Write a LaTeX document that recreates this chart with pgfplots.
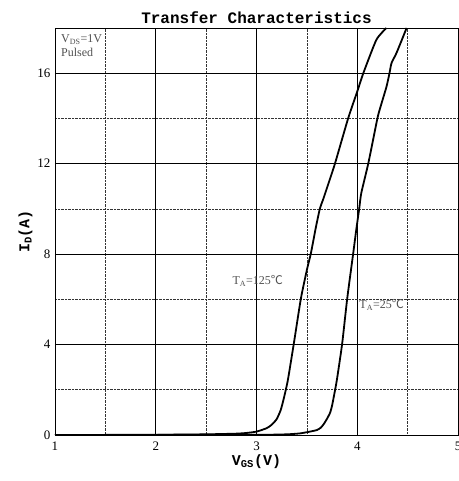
\documentclass[border=0pt]{standalone}
\usepackage{fontspec}
\setmainfont{Liberation Serif}
\newfontfamily\monofont{Liberation Mono}
\newfontfamily\cjk{Noto Sans CJK SC}
\usepackage{pgfplots}
\pgfplotsset{compat=1.18}

\definecolor{annot}{RGB}{80,80,80}

\begin{document}
\begin{tikzpicture}
\begin{axis}[
    name=ax,
    width=403pt, height=407pt,
    scale only axis,
    xmin=1, xmax=5, ymin=0, ymax=18,
    xtick={1,2,3,4,5},
    ytick={0,4,8,12,16},
    minor xtick={1.5,2.5,3.5,4.5},
    minor ytick={2,6,10,14},
    grid=both,
    major grid style={solid, black, line width=0.7pt},
    minor grid style={densely dotted, black!80, line width=0.6pt},
    major tick length=0pt, minor tick length=0pt,
    axis line style={black, line width=0.8pt},
    tick label style={font=\fontsize{13}{13}\selectfont},
    /pgf/number format/assume math mode=true,
    xticklabel style={yshift=-3pt},
    yticklabel style={xshift=-1pt},
    title={\monofont\bfseries\fontsize{16}{16}\selectfont Transfer Characteristics},
    title style={yshift=-5pt},
    xlabel={\monofont\bfseries\fontsize{15}{15}\selectfont V\textsubscript{GS}(V)},
    ylabel={\monofont\bfseries\fontsize{15}{15}\selectfont I\textsubscript{D}(A)},
    xlabel style={yshift=3pt},
    ylabel style={yshift=-2pt},
]
% T_A = 125 C
\addplot[black, line width=1.8pt, line join=round, smooth, tension=0.35] coordinates {
    (1,0) (2,0.01) (2.5,0.03) (2.8,0.06) (2.9,0.09) (3.0,0.15) (3.1,0.30)
    (3.15,0.45) (3.2,0.7) (3.24,1.1) (3.27,1.6) (3.31,2.4) (3.37,4.03)
    (3.44,6.02) (3.50,7.3) (3.54,8.04) (3.59,9.2) (3.63,10.03) (3.66,10.4)
    (3.72,11.2) (3.78,12.02) (3.91,14.01) (4.00,15.19) (4.06,16.0)
    (4.19,17.48) (4.29,18.0)
};
% T_A = 25 C
\addplot[black, line width=1.8pt, line join=round, smooth, tension=0.35] coordinates {
    (1,0) (3.0,0.01) (3.3,0.03) (3.43,0.07) (3.53,0.15) (3.60,0.22) (3.64,0.33)
    (3.67,0.5) (3.70,0.72) (3.73,0.98) (3.75,1.3) (3.78,1.99) (3.80,2.5)
    (3.85,4.03) (3.90,6.02) (3.96,8.04) (3.99,9.07) (4.02,10.03) (4.04,10.7)
    (4.11,12.02) (4.20,14.0) (4.23,14.5) (4.29,15.4) (4.32,16.0) (4.34,16.45)
    (4.39,16.9) (4.49,18.0)
};
\node[anchor=north west, annot, font=\fontsize{12}{14}\selectfont, align=left, inner sep=1pt]
    at (axis cs:1.05,17.75) {V\textsubscript{DS}=1V\\Pulsed};
\node[anchor=west, annot, font=\fontsize{12}{12}\selectfont, inner sep=0pt]
    at (axis cs:2.76,6.8) {T\textsubscript{A}=125{\cjk ℃}};
\node[anchor=west, annot, font=\fontsize{12}{12}\selectfont, inner sep=0pt]
    at (axis cs:4.02,5.75) {T\textsubscript{A}=25{\cjk ℃}};
\end{axis}
\pgfresetboundingbox
\useasboundingbox ([xshift=-55pt,yshift=-46pt]ax.south west) rectangle ([xshift=1pt,yshift=28pt]ax.north east);
\end{tikzpicture}
\end{document}
